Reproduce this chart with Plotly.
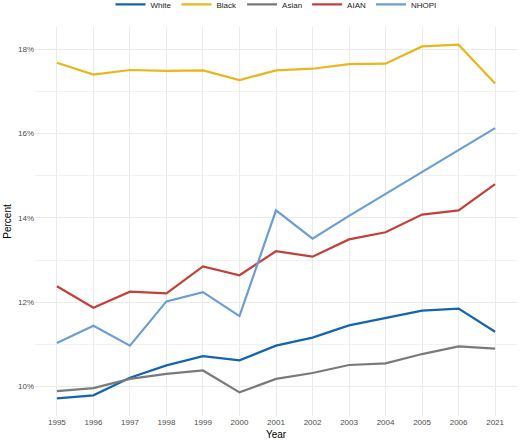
import plotly.graph_objects as go

years = ["1995", "1996", "1997", "1998", "1999", "2000", "2001", "2002", "2003", "2004", "2005", "2006", "2021"]
white = [9.72, 9.79, 10.21, 10.50, 10.72, 10.62, 10.97, 11.16, 11.45, 11.63, 11.80, 11.85, 11.30]
black = [17.68, 17.40, 17.51, 17.49, 17.50, 17.27, 17.50, 17.54, 17.65, 17.66, 18.07, 18.11, 17.19]
asian = [9.89, 9.96, 10.18, 10.30, 10.38, 9.86, 10.18, 10.32, 10.51, 10.55, 10.77, 10.95, 10.90]
aian = [12.38, 11.87, 12.25, 12.21, 12.85, 12.64, 13.21, 13.08, 13.49, 13.66, 14.08, 14.18, 14.80]
nhopi = [11.03, 11.44, 10.97, 12.02, 12.24, 11.67, 14.18, 13.51, 14.05, 14.57, 15.08, 15.61, 16.13]

series = [
    ("White", white, "#1464AF"),
    ("Black", black, "#E8B81A"),
    ("Asian", asian, "#7A7A7A"),
    ("AIAN", aian, "#C2413B"),
    ("NHOPI", nhopi, "#6C9DD5"),
]

fig = go.Figure()
for name, vals, color in series:
    fig.add_trace(go.Scatter(x=years, y=vals, mode="lines", name=name,
                             line=dict(color=color, width=2.2)))

fig.update_layout(
    width=520, height=441,
    margin=dict(l=35, r=3, t=27, b=25, autoexpand=False),
    paper_bgcolor="white", plot_bgcolor="white",
    font=dict(family="Liberation Sans, Arial, sans-serif", size=8, color="#4D4D4D"),
    legend=dict(orientation="h", x=0.5, xanchor="center", y=1.058, yanchor="middle",
                font=dict(size=8, color="#1A1A1A"),
                itemwidth=30, tracegroupgap=0),
    showlegend=True,
)

fig.update_xaxes(
    type="category", range=[-0.6, 12.6], automargin=False,
    showgrid=True, gridcolor="#EBEBEB", gridwidth=1,
    zeroline=False, showline=False, ticks="",
    tickfont=dict(size=8, color="#4D4D4D"),
    title=dict(text="Year", font=dict(size=10, color="#000000"), standoff=4),
)
fig.update_yaxes(
    range=[9.30, 18.53], automargin=False,
    tickvals=[10, 12, 14, 16, 18], ticktext=["10%", "12%", "14%", "16%", "18%"],
    showgrid=True, gridcolor="#EBEBEB", gridwidth=1,
    minor=dict(tickvals=[11, 13, 15, 17], showgrid=True, gridcolor="#F2F2F2", gridwidth=0.6),
    zeroline=False, showline=False, ticks="",
    tickfont=dict(size=8, color="#4D4D4D"),
    title=dict(text="Percent", font=dict(size=10, color="#000000"), standoff=4),
)

fig.write_html("out.html", config={"displayModeBar": False},
               post_script="document.body.style.margin='0px';")
